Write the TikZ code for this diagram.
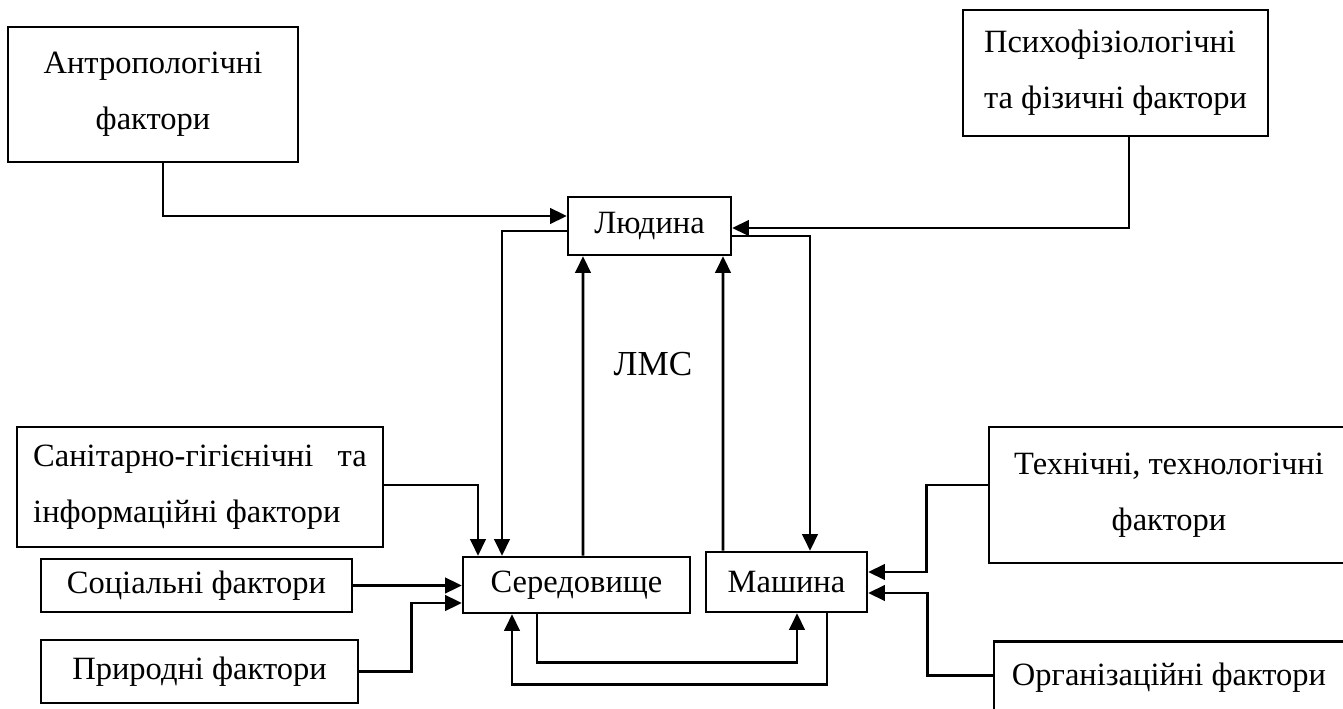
\documentclass[tikz,border=0pt]{standalone}
\usepackage{fontspec}
\setmainfont{Liberation Serif}
\usetikzlibrary{arrows.meta, calc}

\begin{document}
\begin{tikzpicture}[x=0.02cm, y=-0.02cm, >={Triangle[length=3.3mm, width=3.1mm]}, line width=1.5pt,
    box/.style={draw, line width=1.5pt, inner sep=0pt, align=center,
                font=\fontsize{18.5pt}{32pt}\selectfont}]
  \clip (0,0) rectangle (1343,709);
  \node[box, minimum width=5.8cm, minimum height=2.7cm] (antr) at (153,94.5)
       {Антропологічні\\фактори};
  \node[box, align=left, minimum width=6.1cm, minimum height=2.52cm] (psych) at (1115.5,73)
       {Психофізіологічні\\та фізичні фактори};
  \node[box, minimum width=3.26cm, minimum height=1.16cm] (lud) at (649.5,226) {Людина};
  \node[box, minimum width=4.54cm, minimum height=1.12cm] (ser) at (576.5,585) {Середовище};
  \node[box, minimum width=3.22cm, minimum height=1.2cm] (mash) at (786.5,582) {Машина};
  \node[box, align=left, minimum width=7.32cm, minimum height=2.4cm] (san) at (200,487)
       {Санітарно-гігієнічні \ \ та\\інформаційні фактори};
  \node[box, minimum width=6.22cm, minimum height=1.06cm] (soc) at (196.5,585.5) {Соціальні фактори};
  \node[box, minimum width=6.34cm, minimum height=1.26cm] (prir) at (199.5,671.5) {Природні фактори};
  \node[box, minimum width=7.2cm, minimum height=2.72cm] (tech) at (1169,495)
       {Технічні, технологічні\\фактори};
  \node[box, anchor=north, minimum width=7cm, minimum height=1.44cm] (org) at (1169,640)
       {Організаційні фактори};
  \node[font=\fontsize{20pt}{24pt}\selectfont] (lms) at (653,364) {ЛМС};

  % фактори -> Людина
  \draw[->] ($(antr.south)+(10,0)$) |- ($(lud.west)+(0,-10)$);
  \draw[->] ($(psych.south)+(13.5,0)$) |- ($(lud.east)+(0,2)$);
  % зв'язки всередині ЛМС
  \draw[->] ($(lud.west)+(0,5)$) -| ($(ser.north)+(-74.5,0)$);
  \draw[->] ($(ser.north)+(6.5,0)$) -- ($(lud.south)+(-66.5,0)$);
  \draw[->] ($(mash.north)+(-63.5,0)$) -- ($(lud.south)+(73.5,0)$);
  \draw[->] ($(lud.east)+(0,10)$) -| ($(mash.north)+(23.5,0)$);
  \draw[->] ($(ser.south)+(-39.5,0)$) -- ++(0,48) -| ($(mash.south)+(10.5,0)$);
  \draw[->] ($(mash.south)+(40.5,0)$) -- ++(0,71) -| ($(ser.south)+(-64.5,0)$);
  % фактори -> Середовище
  \draw[->] ($(san.east)+(0,-2)$) -| ($(ser.north)+(-98.5,0)$);
  \draw[->] (soc.east) -- (soc.east -| ser.west);
  \draw[->] (prir.east) -- ++(52,0) |- ($(ser.west)+(0,18)$);
  % фактори -> Машина
  \draw[->] ($(tech.west)+(0,-10)$) -- ++(-61,0) |- ($(mash.east)+(0,-10)$);
  \draw[->] ($(org.west)+(0,-2)$) -- ++(-65,0) |- ($(mash.east)+(0,11)$);
\end{tikzpicture}
\end{document}
